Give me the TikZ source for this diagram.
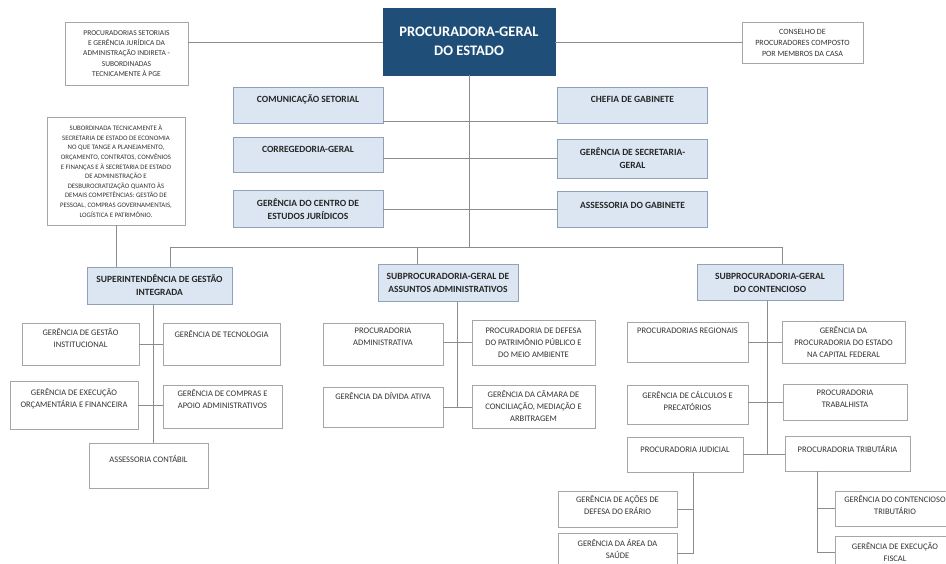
\documentclass[tikz,border=0pt]{standalone}
\usepackage{fontspec}
\setmainfont{Carlito}
\definecolor{pgedark}{HTML}{1F4E79}
\definecolor{pgelight}{HTML}{DCE6F2}
\definecolor{pgeline}{HTML}{8C8C8C}
\definecolor{staffedge}{HTML}{8FA2B8}
\definecolor{unitedge}{HTML}{A6A6A6}

\begin{document}
\begin{tikzpicture}[x=1pt, y=-1pt,
    head/.style={draw=pgedark, fill=pgedark, text=white, align=center, font=\fontsize{14.5}{19}\selectfont\bfseries, minimum width=172pt, minimum height=67pt, inner sep=0pt},
    staff/.style={draw=staffedge, fill=pgelight, text=black!85, align=center, font=\fontsize{9.5}{13}\selectfont\bfseries, minimum width=150pt, inner sep=0pt},
    unit/.style={draw=unitedge, fill=white, text=black!80, align=center, font=\fontsize{8.5}{12}\selectfont, inner sep=0pt},
    note/.style={unit, font=\fontsize{6.8}{9.6}\selectfont},
    lift/.style={text depth=#1},
    link/.style={draw=pgeline, line width=0.8pt}]
    \useasboundingbox (0,0) rectangle (946,564);
    \fill [white] (0,0) rectangle (946,564);
    \clip (0,0) rectangle (946,564);

    \node [head] (pge) at (469,41.5) {PROCURADORA-GERAL\\DO ESTADO};
    \node [note, minimum width=123pt, minimum height=63pt, font=\fontsize{7.5}{10.4}\selectfont] (setoriais) at (126.5,53.5) {PROCURADORIAS SETORIAIS\\E GERÊNCIA JURÍDICA DA\\ADMINISTRAÇÃO INDIRETA -\\SUBORDINADAS\\TECNICAMENTE À PGE};
    \node [unit, minimum width=121pt, minimum height=41pt, font=\fontsize{8}{11}\selectfont] (conselho) at (802.5,42.5) {CONSELHO DE\\PROCURADORES COMPOSTO\\POR MEMBROS DA CASA};

    \node [staff, minimum height=36pt, lift=12pt] (comunic) at (308,105) {COMUNICAÇÃO SETORIAL};
    \node [staff, minimum height=35pt, lift=10pt] (correg) at (308,154.5) {CORREGEDORIA-GERAL};
    \node [staff, minimum height=37pt] (cej) at (308,209) {GERÊNCIA DO CENTRO DE\\ESTUDOS JURÍDICOS};
    \node [staff, minimum height=36pt, lift=12pt] (chefia) at (632.5,105) {CHEFIA DE GABINETE};
    \node [staff, minimum height=39pt] (secger) at (632.5,158.5) {GERÊNCIA DE SECRETARIA-\\GERAL};
    \node [staff, minimum height=36pt, lift=8pt] (assgab) at (632.5,209) {ASSESSORIA DO GABINETE};

    \node [note, minimum width=138pt, minimum height=108pt] (tecnica) at (116,171) {SUBORDINADA TECNICAMENTE À\\SECRETARIA DE ESTADO DE ECONOMIA\\NO QUE TANGE A PLANEJAMENTO,\\ORÇAMENTO, CONTRATOS, CONVÊNIOS\\E FINANÇAS E À SECRETARIA DE ESTADO\\DE ADMINISTRAÇÃO E\\DESBUROCRATIZAÇÃO QUANTO ÀS\\DEMAIS COMPETÊNCIAS: GESTÃO DE\\PESSOAL, COMPRAS GOVERNAMENTAIS,\\LOGÍSTICA E PATRIMÔNIO.};

    \node [staff, minimum width=145pt, minimum height=37pt] (sgi) at (159.5,285.5) {SUPERINTENDÊNCIA DE GESTÃO\\INTEGRADA};
    \node [staff, minimum width=140pt, minimum height=37pt] (sga) at (448,283) {SUBPROCURADORIA-GERAL DE\\ASSUNTOS ADMINISTRATIVOS};
    \node [staff, minimum width=146pt, minimum height=36pt] (sgc) at (770,282.5) {SUBPROCURADORIA-GERAL\\DO CONTENCIOSO};

    \node [unit, minimum width=117pt, minimum height=42pt, lift=12pt] (ggi) at (80.5,344) {GERÊNCIA DE GESTÃO\\INSTITUCIONAL};
    \node [unit, minimum width=117pt, minimum height=42pt, lift=20pt] (gtec) at (221.5,344) {GERÊNCIA DE TECNOLOGIA};
    \node [unit, minimum width=128pt, minimum height=48pt, lift=14pt] (geof) at (74,405) {GERÊNCIA DE EXECUÇÃO\\ORÇAMENTÁRIA E FINANCEIRA};
    \node [unit, minimum width=119pt, minimum height=43pt, lift=14pt] (gcomp) at (222.5,406.5) {GERÊNCIA DE COMPRAS E\\APOIO ADMINISTRATIVOS};
    \node [unit, minimum width=119pt, minimum height=45pt, lift=14pt] (contab) at (148.5,465.5) {ASSESSORIA CONTÁBIL};

    \node [unit, minimum width=120pt, minimum height=42pt, lift=14pt] (padm) at (383,344) {PROCURADORIA\\ADMINISTRATIVA};
    \node [unit, minimum width=123pt, minimum height=45pt] (ppat) at (533.5,342.5) {PROCURADORIA DE DEFESA\\DO PATRIMÔNIO PÚBLICO E\\DO MEIO AMBIENTE};
    \node [unit, minimum width=120pt, minimum height=40pt, lift=22pt] (gdiv) at (383,407) {GERÊNCIA DA DÍVIDA ATIVA};
    \node [unit, minimum width=123pt, minimum height=43pt] (gcam) at (533.5,406.5) {GERÊNCIA DA CÂMARA DE\\CONCILIAÇÃO, MEDIAÇÃO E\\ARBITRAGEM};

    \node [unit, minimum width=121pt, minimum height=40pt, lift=22pt] (preg) at (687.5,342) {PROCURADORIAS REGIONAIS};
    \node [unit, minimum width=123pt, minimum height=42pt] (gpcf) at (843.5,342) {GERÊNCIA DA\\PROCURADORIA DO ESTADO\\NA CAPITAL FEDERAL};
    \node [unit, minimum width=121pt, minimum height=39pt, lift=7pt] (gcalc) at (687.5,404.5) {GERÊNCIA DE CÁLCULOS E\\PRECATÓRIOS};
    \node [unit, minimum width=124pt, minimum height=36pt, lift=6pt] (ptrab) at (845,402) {PROCURADORIA\\TRABALHISTA};
    \node [unit, minimum width=116pt, minimum height=35pt, lift=10pt] (pjud) at (685,454.5) {PROCURADORIA JUDICIAL};
    \node [unit, minimum width=125pt, minimum height=35pt, lift=10pt] (ptrib) at (847.5,453.5) {PROCURADORIA TRIBUTÁRIA};
    \node [unit, minimum width=119pt, minimum height=36pt, lift=7pt] (gade) at (617.5,509) {GERÊNCIA DE AÇÕES DE\\DEFESA DO ERÁRIO};
    \node [unit, minimum width=119pt, minimum height=40pt, lift=8pt] (gsaude) at (617.5,553) {GERÊNCIA DA ÁREA DA\\SAÚDE};
    \node [unit, minimum width=120pt, minimum height=35pt, lift=6pt] (gct) at (895,508.5) {GERÊNCIA DO CONTENCIOSO\\TRIBUTÁRIO};
    \node [unit, minimum width=120pt, minimum height=32pt] (gef) at (895,552) {GERÊNCIA DE EXECUÇÃO\\FISCAL};

    \coordinate (busL) at (170,247);
    \coordinate (busM) at (417,247);
    \coordinate (busR) at (782,247);
    \coordinate (tribtrunk) at ([xshift=-30pt]ptrib.south);
    \coordinate (judtrunk) at ([xshift=8pt]pjud.south);

    \draw [link] (setoriais.east |- conselho.west) -- (pge.west |- conselho.west);
    \draw [link] (pge.east |- conselho.west) -- (conselho.west);
    \draw [link] (pge.south) -- (pge.south |- busL);
    \draw [link] ([yshift=2pt]comunic.south east) -- ([yshift=2pt]chefia.south west);
    \draw [link] (correg.east |- secger.west) -- (secger.west);
    \draw [link] (cej.east) -- (assgab.west);

    \draw [link] (busL |- sgi.north) -- (busL) -- (busR) -- (busR |- sgc.north);
    \draw [link] (busM) -- (busM |- sga.north);
    \draw [link] (tecnica.south) -- (tecnica.south |- sgi.north);

    \draw [link] ([xshift=-6pt]sgi.south) -- ([xshift=-6pt]sgi.south |- contab.north);
    \draw [link] (ggi.east) -- (gtec.west);
    \draw [link] (geof.east) -- (geof.east -| gcomp.west);

    \draw [link] ([xshift=9pt]sga.south) -- ([xshift=9pt]sga.south |- gdiv.east);
    \draw [link] (padm.east |- ppat.west) -- (ppat.west);
    \draw [link] (gdiv.east) -- (gdiv.east -| gcam.west);

    \draw [link] ([xshift=-3pt]sgc.south) -- ([xshift=-3pt]sgc.south |- pjud.east);
    \draw [link] (preg.east) -- (gpcf.west);
    \draw [link] (gcalc.east |- ptrab.west) -- (ptrab.west);
    \draw [link] (pjud.east) -- (pjud.east -| ptrib.west);

    \draw [link] (judtrunk) -- (judtrunk |- gsaude.east) -- (gsaude.east);
    \draw [link] (gade.east) -- (judtrunk |- gade.east);
    \draw [link] (tribtrunk) -- (tribtrunk |- gef.west) -- (gef.west);
    \draw [link] (tribtrunk |- gct.west) -- (gct.west);
\end{tikzpicture}
\end{document}
